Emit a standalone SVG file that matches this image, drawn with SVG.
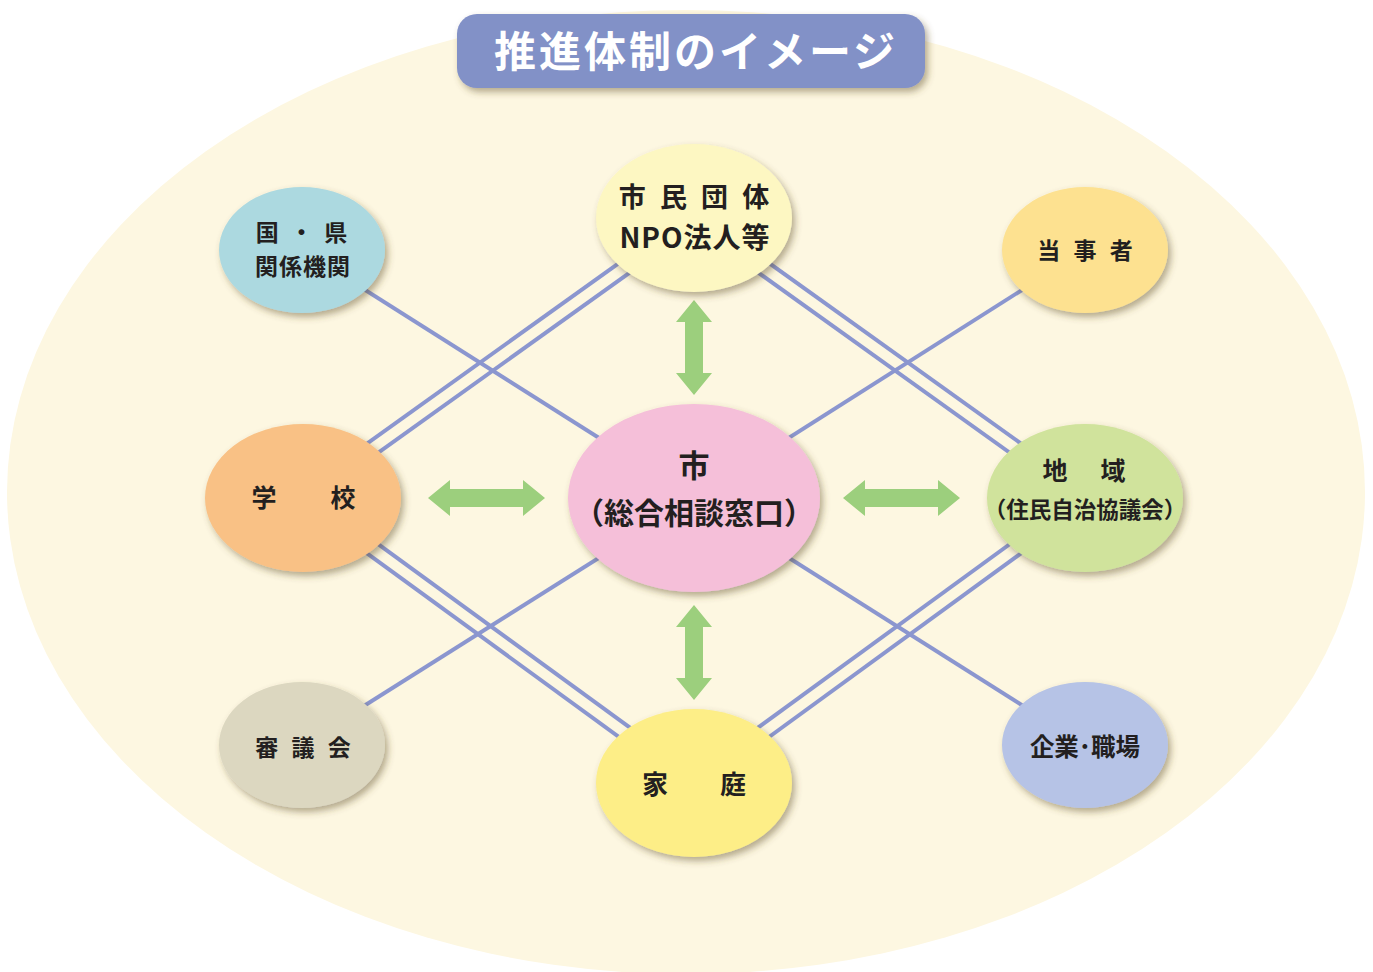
<svg xmlns="http://www.w3.org/2000/svg" width="1373" height="972" viewBox="0 0 1373 972">
<defs>
<filter id="sh" x="-20%" y="-20%" width="150%" height="150%">
<feDropShadow dx="3" dy="4" stdDeviation="3.5" flood-color="#5a4a20" flood-opacity="0.45"/>
</filter>
<style>
.ln{stroke:#8b96cf;stroke-width:4;fill:none}
.ar{fill:#9ccf7d}
.t{font-family:"Noto Sans CJK JP","Noto Sans",sans-serif;font-weight:bold;fill:#231f20;text-anchor:middle}
.node ellipse{filter:url(#sh)}
</style>
</defs>
<rect width="1373" height="972" fill="#ffffff"/>
<ellipse cx="686" cy="492" rx="679" ry="482" fill="#fdf7e1"/>

<g id="connectors">
<line class="ln" x1="302" y1="250" x2="694" y2="498"/>
<line class="ln" x1="1085" y1="250" x2="694" y2="498"/>
<line class="ln" x1="302" y1="745" x2="694" y2="498"/>
<line class="ln" x1="1085" y1="745" x2="694" y2="498"/>
<line class="ln" x1="698.1" y1="223.7" x2="307.1" y2="503.7"/>
<line class="ln" x1="689.9" y1="212.3" x2="298.9" y2="492.3"/>
<line class="ln" x1="689.9" y1="223.7" x2="1080.9" y2="503.7"/>
<line class="ln" x1="698.1" y1="212.3" x2="1089.1" y2="492.3"/>
<line class="ln" x1="298.9" y1="503.7" x2="689.9" y2="788.7"/>
<line class="ln" x1="307.1" y1="492.3" x2="698.1" y2="777.3"/>
<line class="ln" x1="1089.1" y1="503.7" x2="698.1" y2="788.7"/>
<line class="ln" x1="1080.9" y1="492.3" x2="689.9" y2="777.3"/>
<polygon class="ar" points="428,498 450,480 450,489 523,489 523,480 545,498 523,516 523,507 450,507 450,516"/>
<polygon class="ar" points="843,498 865,480 865,489 938,489 938,480 960,498 938,516 938,507 865,507 865,516"/>
<polygon class="ar" points="694,300 712,322 703,322 703,373 712,373 694,395 676,373 685,373 685,322 676,322"/>
<polygon class="ar" points="694,605 712,627 703,627 703,678 712,678 694,700 676,678 685,678 685,627 676,627"/>
</g>

<g id="title">
<rect x="457" y="14" width="468" height="74" rx="20" fill="#8291c7" filter="url(#sh)"/>
<text x="696" y="67" font-family="'Noto Sans CJK JP',sans-serif" font-weight="bold" font-size="42" letter-spacing="3" fill="#ffffff" text-anchor="middle">推進体制のイメージ</text>
</g>

<g id="n-kuni" class="node">
<ellipse cx="302" cy="250" rx="83" ry="63" fill="#acd9e0"/>
<text class="t" x="303" y="241" font-size="23" letter-spacing="3">国 ・ 県</text>
<text class="t" x="303" y="275" font-size="23" letter-spacing="1">関係機関</text>
</g>
<g id="n-shimin" class="node">
<ellipse cx="694" cy="218" rx="98" ry="74" fill="#fdf7c2"/>
<text class="t" x="696" y="207" font-size="27" letter-spacing="4">市 民 団 体</text>
<text class="t" x="695" y="248" font-size="28" letter-spacing="1">NPO法人等</text>
</g>
<g id="n-tojisha" class="node">
<ellipse cx="1085" cy="250" rx="83" ry="63" fill="#fde190"/>
<text class="t" x="1087" y="259" font-size="23" letter-spacing="4">当 事 者</text>
</g>
<g id="n-gakko" class="node">
<ellipse cx="303" cy="498" rx="98" ry="74" fill="#f9c185"/>
<text class="t" x="264" y="507" font-size="25">学</text>
<text class="t" x="343" y="507" font-size="25">校</text>
</g>
<g id="n-shi" class="node">
<ellipse cx="694" cy="498" rx="126" ry="94" fill="#f5bfd9"/>
<text class="t" x="694" y="477" font-size="31">市</text>
<text class="t" x="694" y="524" font-size="30">（総合相談窓口）</text>
</g>
<g id="n-chiiki" class="node">
<ellipse cx="1085" cy="498" rx="98" ry="74" fill="#d0e39c"/>
<text class="t" x="1055" y="480" font-size="25">地</text>
<text class="t" x="1113" y="480" font-size="25">域</text>
<text class="t" x="1085" y="518" font-size="22.5">（住民自治協議会）</text>
</g>
<g id="n-shingikai" class="node">
<ellipse cx="302" cy="745" rx="83" ry="63" fill="#dcd7c0"/>
<text class="t" x="305" y="756" font-size="23" letter-spacing="4">審 議 会</text>
</g>
<g id="n-katei" class="node">
<ellipse cx="694" cy="783" rx="98" ry="74" fill="#fdee87"/>
<text class="t" x="655" y="794" font-size="26">家</text>
<text class="t" x="733" y="794" font-size="26">庭</text>
</g>
<g id="n-kigyo" class="node">
<ellipse cx="1085" cy="745" rx="83" ry="63" fill="#b6c3e6"/>
<text class="t" x="1085" y="756" font-size="24.5">企業･職場</text>
</g>
</svg>
